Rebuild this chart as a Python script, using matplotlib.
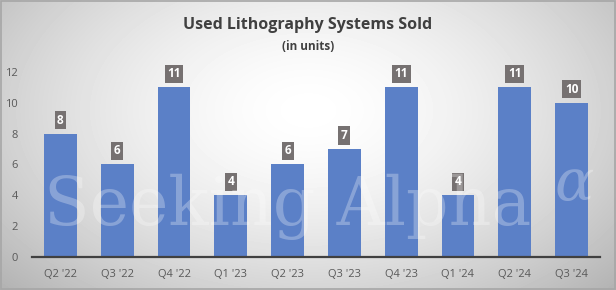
import numpy as np
import matplotlib
matplotlib.use("Agg")
import matplotlib.pyplot as plt

quarters = ["Q2 '22", "Q3 '22", "Q4 '22", "Q1 '23", "Q2 '23",
            "Q3 '23", "Q4 '23", "Q1 '24", "Q2 '24", "Q3 '24"]
units_sold = [8, 6, 11, 4, 6, 7, 11, 4, 11, 10]
y_ticks = [0, 2, 4, 6, 8, 10, 12]

plt.rcParams['font.family'] = ['Open Sans', 'DejaVu Sans']

fig = plt.figure(figsize=(6.16, 2.9), dpi=100)

# radial grey background
bg = fig.add_axes([0, 0, 1, 1], zorder=0)
yy, xx = np.mgrid[0:290, 0:616]
r = np.sqrt(((xx - 308) / 420.0) ** 2 + ((yy - 110) / 260.0) ** 2)
shade = np.clip(1.0 - 0.30 * r ** 1.6, 0.70, 1.0)
bg.imshow(shade, cmap="gray", vmin=0, vmax=1, aspect="auto", extent=[0, 1, 0, 1])
bg.set_xlim(0, 1)
bg.set_ylim(0, 1)
bg.axis("off")
bg.add_patch(plt.Rectangle((0.001, 0.002), 0.997, 0.995, fill=False,
                           edgecolor="#a6a6a6", linewidth=1.2))

ax = fig.add_axes([0.052, 0.114, 0.922, 0.638], zorder=1)
ax.patch.set_alpha(0)
x = np.arange(len(quarters))
ax.bar(x, units_sold, width=0.58, color="#5b80c7", zorder=2)

for xi, v in zip(x, units_sold):
    ax.text(xi, v + 0.45, str(v), ha="center", va="bottom", fontsize=8.5,
            fontweight="bold", color="white", clip_on=False, zorder=4,
            bbox=dict(boxstyle="square,pad=0.22", facecolor="#767171",
                      edgecolor="none"))

ax.set_xlim(-0.5, len(quarters) - 0.5)
ax.set_ylim(0, 12)
ax.set_yticks(y_ticks)
ax.set_xticks(x)
ax.set_xticklabels(quarters)
ax.tick_params(axis="both", length=0, labelsize=8, labelcolor="#595959")
ax.tick_params(axis="x", pad=9)
ax.tick_params(axis="y", pad=10)
for s in ["top", "right", "left"]:
    ax.spines[s].set_visible(False)
ax.spines["bottom"].set_color("#404040")
ax.spines["bottom"].set_linewidth(1.6)
ax.spines["bottom"].set_zorder(3)

# watermark
fig.text(0.072, 0.225, "Seeking Alpha", fontsize=48, family="DejaVu Serif",
         color="white", alpha=0.28, zorder=5, va="baseline")
fig.text(0.9, 0.31, "\u03b1", fontsize=42, family="DejaVu Serif", style="italic",
         color="white", alpha=0.28, zorder=5, va="baseline")

fig.text(0.5, 0.914, "Used Lithography Systems Sold", ha="center", va="center",
         fontsize=11.5, fontweight="bold", color="#404040")
fig.text(0.5, 0.838, "(in units)", ha="center", va="center",
         fontsize=8.5, fontweight="bold", color="#404040")

fig.savefig("out.png", dpi=100)
